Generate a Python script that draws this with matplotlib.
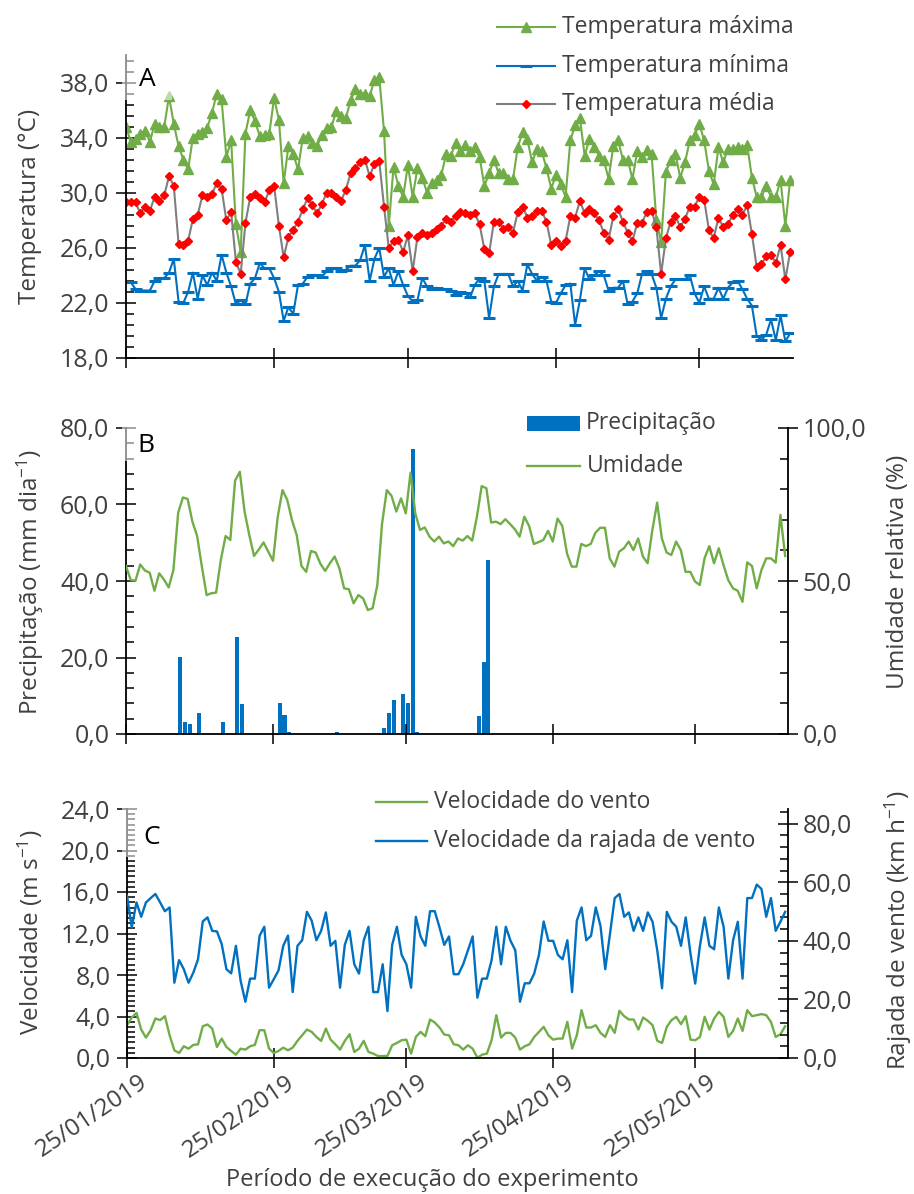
import numpy as np
import matplotlib
matplotlib.use("Agg")
import matplotlib.pyplot as plt
import matplotlib.dates as mdates
from matplotlib.lines import Line2D
from matplotlib.patches import Rectangle
from matplotlib.ticker import FixedLocator, FuncFormatter
from matplotlib.transforms import ScaledTranslation

W, H = 914, 1194

plt.rcParams['font.family'] = ['Open Sans', 'DejaVu Sans']
plt.rcParams['mathtext.fontset'] = 'custom'
plt.rcParams['mathtext.rm'] = 'Open Sans'
plt.rcParams['mathtext.default'] = 'regular'

TEXT = '#404040'
GREEN = '#70AD47'
BLUE = '#0070C0'
GRAY = '#7F7F7F'
RED = '#FF0000'

start_date = '2019-01-25'

temp_max = [34.8, 33.7, 33.9, 34.3, 34.5, 33.7, 35.0, 34.8, 34.8, 37.0, 35.0, 33.4, 32.4, 31.7, 34.0,
            34.3, 34.4, 34.7, 35.8, 37.2, 36.8, 32.6, 33.8, 27.7, 25.7, 34.3, 36.0, 35.2, 34.1, 34.2,
            34.3, 36.9, 35.3, 30.7, 33.4, 32.8, 31.7, 34.0, 34.1, 33.6, 33.4, 34.2, 34.7, 34.8, 35.9,
            35.6, 35.4, 36.7, 37.5, 37.2, 37.2, 37.0, 38.2, 38.4, 34.5, 27.6, 31.9, 30.5, 29.7, 32.0,
            29.7, 31.8, 31.1, 30.0, 30.7, 30.9, 31.3, 32.8, 32.7, 33.6, 33.0, 33.5, 33.0, 33.3, 32.6,
            30.5, 31.4, 32.4, 31.4, 31.4, 31.0, 31.0, 33.3, 34.4, 33.9, 32.2, 33.2, 33.0, 31.8, 30.3,
            31.3, 30.6, 29.7, 33.8, 34.9, 35.4, 32.7, 33.9, 33.3, 32.7, 32.4, 31.0, 33.4, 33.8, 32.4,
            32.4, 31.0, 33.0, 32.6, 33.1, 32.8, 28.0, 26.4, 31.5, 32.4, 32.8, 31.1, 32.2, 33.8, 34.2,
            35.0, 33.8, 31.6, 30.6, 33.3, 32.2, 33.2, 33.2, 33.3, 33.2, 33.5, 31.1, 29.7, 29.7, 30.5,
            29.7, 29.7, 30.9, 27.6, 30.9]
temp_min = [23.5, 23.5, 23.0, 22.9, 22.9, 22.9, 23.6, 23.8, 23.8, 24.2, 25.2, 22.1, 22.0, 22.8, 24.2,
            22.3, 24.0, 23.3, 24.2, 23.6, 25.5, 24.2, 23.2, 21.9, 22.2, 21.9, 23.4, 23.8, 24.9, 24.5,
            24.5, 23.8, 22.8, 20.7, 21.7, 21.2, 23.3, 23.4, 23.9, 24.0, 24.0, 23.9, 24.3, 24.5, 24.5,
            24.3, 24.4, 24.7, 24.7, 25.1, 26.2, 23.6, 25.2, 26.0, 23.9, 24.5, 23.3, 24.3, 23.3, 22.5,
            22.1, 22.2, 23.8, 23.2, 23.0, 23.1, 23.0, 23.0, 22.9, 22.6, 22.8, 22.7, 22.4, 23.3, 23.8,
            23.6, 20.9, 23.2, 24.1, 24.1, 24.1, 23.2, 23.6, 22.9, 24.8, 24.1, 23.6, 23.9, 23.6, 22.1,
            22.0, 22.7, 23.3, 23.4, 20.4, 22.2, 24.5, 23.7, 24.0, 24.3, 24.0, 22.9, 23.1, 23.1, 23.6,
            21.9, 22.1, 22.7, 24.1, 24.3, 24.1, 23.1, 20.9, 22.3, 23.2, 23.7, 23.7, 23.7, 24.0, 22.7,
            22.0, 23.2, 22.3, 22.3, 23.1, 22.3, 23.1, 23.5, 23.6, 23.0, 22.3, 21.8, 19.6, 19.3, 19.7,
            20.8, 19.3, 21.1, 19.2, 19.8]
temp_mean = [29.3, 29.3, 29.3, 28.5, 29.0, 28.7, 29.7, 29.4, 29.8, 31.2, 30.5, 26.3, 26.2, 26.5, 28.1,
             28.4, 29.8, 29.7, 29.9, 30.7, 30.3, 28.0, 28.6, 25.0, 24.1, 27.8, 29.7, 29.9, 29.6, 29.3,
             30.2, 30.5, 27.6, 25.3, 26.8, 27.3, 27.9, 28.8, 29.6, 29.1, 28.5, 29.2, 30.0, 30.0, 29.7,
             29.4, 30.2, 31.4, 31.8, 32.2, 32.4, 31.2, 32.1, 32.3, 29.0, 26.0, 26.5, 26.6, 25.7, 26.9,
             24.3, 26.8, 27.1, 26.9, 27.1, 27.4, 27.6, 28.1, 27.9, 28.3, 28.6, 28.5, 28.4, 28.5, 27.7,
             25.9, 25.6, 27.9, 27.9, 27.4, 27.5, 27.1, 28.6, 29.0, 28.2, 28.3, 28.7, 28.7, 27.9, 26.2,
             26.5, 26.1, 26.5, 28.3, 28.2, 29.4, 28.5, 28.8, 28.5, 28.0, 27.1, 26.6, 28.3, 28.8, 27.9,
             27.1, 26.5, 27.8, 27.8, 28.6, 28.7, 27.5, 24.1, 26.7, 27.9, 28.3, 27.5, 28.1, 29.0, 29.0,
             29.7, 29.5, 27.3, 26.7, 28.2, 27.5, 27.7, 28.4, 28.8, 28.4, 29.1, 27.0, 24.6, 24.8, 25.4,
             25.5, 24.9, 26.2, 23.7, 25.7]

humidity = [54.9, 50.3, 50.1, 55.4, 53.4, 52.7, 46.8, 52.5, 50.5, 47.9, 53.6, 72.3, 77.3, 76.8, 69.4,
            64.7, 54.7, 45.4, 46.0, 46.2, 56.9, 64.7, 63.4, 82.8, 85.7, 72.7, 65.0, 58.2, 60.3, 62.6,
            59.6, 56.6, 71.0, 79.7, 76.5, 69.9, 65.0, 54.9, 53.0, 59.8, 59.3, 55.6, 53.3, 55.8, 58.0,
            54.1, 47.6, 47.3, 42.7, 45.4, 44.3, 40.5, 41.1, 48.7, 68.8, 79.7, 77.8, 72.7, 77.0, 72.1,
            85.4, 72.1, 66.7, 67.5, 64.5, 62.9, 64.5, 62.3, 62.9, 61.4, 63.9, 63.2, 64.7, 63.2, 71.0,
            81.0, 80.3, 69.1, 69.4, 68.6, 70.2, 68.6, 66.9, 64.5, 71.0, 68.0, 62.1, 62.7, 63.4, 66.4,
            62.9, 70.4, 68.0, 59.0, 54.7, 54.7, 62.1, 61.4, 62.1, 65.8, 67.4, 67.4, 57.4, 54.7, 59.6,
            60.7, 62.9, 60.1, 63.9, 58.0, 55.8, 66.7, 75.6, 63.9, 59.3, 58.5, 62.9, 60.1, 53.0, 53.0,
            49.8, 48.7, 57.4, 61.4, 55.8, 60.7, 55.2, 50.3, 47.6, 46.8, 43.2, 56.1, 54.9, 47.6, 53.6,
            57.4, 57.4, 56.0, 71.6, 58.2]

rain_dates = ['2019-02-05', '2019-02-06', '2019-02-07', '2019-02-09', '2019-02-14', '2019-02-17',
              '2019-02-18', '2019-02-26', '2019-02-27', '2019-02-28', '2019-03-10', '2019-03-20',
              '2019-03-21', '2019-03-22', '2019-03-24', '2019-03-25', '2019-03-26', '2019-03-27',
              '2019-04-09', '2019-04-10', '2019-04-11']
rain_mm = [20.1, 3.1, 2.6, 5.6, 3.1, 25.4, 7.8, 8.1, 4.9, 0.4, 0.4, 1.5, 5.6, 8.9, 10.5, 8.1, 74.5, 0.4,
           4.7, 18.8, 45.4]

wind_speed = [3.16, 3.9, 4.35, 2.74, 1.97, 2.68, 3.81, 3.65, 4.03, 2.19, 0.74, 0.48, 1.13, 0.9, 1.26,
              1.32, 3.06, 3.23, 2.84, 1.06, 1.87, 1.06, 0.68, 0.32, 0.9, 0.81, 1.13, 1.26, 2.68, 2.68,
              0.9, 0.48, 0.68, 1.0, 0.74, 1.0, 1.65, 2.19, 2.74, 2.52, 2.03, 1.65, 2.84, 1.77, 1.32,
              0.81, 1.65, 2.29, 0.58, 0.9, 1.65, 0.58, 0.42, 0.19, 0.19, 0.19, 1.23, 1.45, 1.71, 1.77,
              0.42, 2.03, 2.52, 2.1, 3.71, 3.42, 2.94, 2.26, 2.19, 1.32, 1.23, 0.81, 1.23, 0.9, 0.03,
              0.32, 0.42, 1.71, 4.13, 1.97, 2.42, 2.42, 1.97, 0.81, 1.13, 1.32, 2.03, 2.52, 3.0, 2.19,
              1.77, 1.87, 1.87, 3.48, 0.9, 2.19, 4.61, 2.94, 2.94, 3.16, 2.42, 2.03, 3.16, 2.42, 4.55,
              4.03, 3.71, 3.71, 2.74, 3.9, 3.58, 3.16, 1.65, 1.45, 3.0, 3.65, 3.97, 3.26, 4.03, 1.77,
              1.71, 2.03, 3.97, 2.74, 3.81, 4.45, 3.97, 2.03, 2.61, 3.81, 2.61, 4.61, 4.03, 4.13, 4.23,
              4.13, 3.48, 2.03, 2.29, 3.06]
wind_gust = [55.4, 44.6, 53.1, 48.2, 53.1, 54.6, 56.0, 53.1, 50.1, 51.4, 25.7, 33.4, 30.3, 25.7, 29.1,
             33.7, 46.6, 48.0, 43.4, 43.2, 38.9, 30.3, 28.9, 38.3, 26.3, 19.2, 27.1, 27.1, 41.7, 44.8,
             24.0, 26.9, 29.9, 38.3, 41.8, 22.5, 38.3, 40.2, 49.9, 46.9, 40.2, 43.4, 49.7, 38.3, 40.0,
             24.0, 38.6, 43.4, 32.0, 28.8, 40.2, 44.8, 22.5, 22.5, 32.0, 16.0, 38.6, 44.8, 35.2, 32.0,
             24.0, 48.2, 41.5, 38.3, 50.1, 50.1, 44.6, 38.6, 41.5, 28.6, 28.6, 32.0, 36.8, 41.5, 20.6,
             27.1, 27.1, 33.4, 44.8, 32.0, 44.8, 40.0, 36.8, 19.2, 25.5, 25.5, 28.8, 35.2, 46.6, 40.0,
             40.0, 35.2, 33.7, 40.2, 22.5, 46.9, 51.4, 40.2, 41.7, 51.4, 45.1, 30.3, 42.3, 54.6, 56.0,
             48.2, 49.7, 43.4, 48.0, 43.4, 49.7, 46.5, 36.6, 23.8, 49.9, 46.5, 44.8, 38.3, 48.0, 35.7,
             25.4, 38.3, 48.0, 38.3, 37.1, 51.4, 44.8, 27.1, 40.2, 46.5, 27.1, 54.6, 54.6, 59.2, 57.7,
             48.2, 54.6, 43.4, 46.5, 49.9]

days = np.datetime64(start_date) + np.arange(len(temp_max))
x0 = mdates.date2num(np.datetime64(start_date))


def comma(v, pos):
    return f'{v:.1f}'.replace('.', ',')


def style_y(ax, majors, minors, right=False):
    ax.yaxis.set_major_locator(FixedLocator(majors))
    ax.yaxis.set_minor_locator(FixedLocator(minors))
    ax.yaxis.set_major_formatter(FuncFormatter(comma))
    ax.tick_params(axis='y', which='major', direction='inout', length=14, width=1.1,
                   color='black', labelsize=18, labelcolor=TEXT, pad=3.5 if right else 5)
    ax.tick_params(axis='y', which='minor', direction='in', length=6, width=1.1, color='black')


def style_x(ax, show_labels):
    ax.set_xlim(x0, x0 + 139.6)
    ax.xaxis.set_major_locator(mdates.DayLocator(bymonthday=25))
    ax.xaxis.set_major_formatter(mdates.DateFormatter('%d/%m/%Y'))
    ax.tick_params(axis='x', which='major', direction='inout', length=14, width=1.1,
                   color='black', labelbottom=show_labels, labelsize=17.5, labelcolor=TEXT, pad=2)


def style_spines(ax, visible):
    for side, sp in ax.spines.items():
        sp.set_visible(side in visible)
        sp.set_linewidth(1.3)
        sp.set_color('black')


fig = plt.figure(figsize=(W / 100, H / 100), dpi=100)

# Panel A - temperatures
axA = fig.add_axes([126 / W, 1 - 358 / H, 667 / W, 303 / H])
axA.plot(days, temp_max, color=GREEN, lw=1.5, marker='^', ms=7.5, mfc=GREEN, mec=GREEN)
axA.plot(days, temp_min, color=BLUE, lw=1.5, marker='_', ms=9, mew=2.2)
axA.plot(days, temp_mean, color=GRAY, lw=1.5, marker='D', ms=4, mfc=RED, mec=RED)
axA.set_ylim(18, 40)
style_y(axA, np.arange(18, 39, 4), np.arange(18, 40.01, 0.8))
style_x(axA, False)
style_spines(axA, ('left', 'bottom'))

# Panel B - rain and humidity
axB = fig.add_axes([126 / W, 1 - 734 / H, 662 / W, 306 / H])
axB.bar(np.array(rain_dates, dtype='datetime64[D]'), rain_mm, width=0.85, align='edge', color=BLUE)
axB.set_ylim(0, 80)
style_y(axB, np.arange(0, 81, 20), np.arange(0, 81, 4))
axB2 = axB.twinx()
axB2.plot(days, humidity, color=GREEN, lw=1.7)
axB2.set_ylim(0, 100)
style_y(axB2, [0, 50, 100], np.arange(0, 101, 10), right=True)
style_x(axB, False)
style_spines(axB, ('left', 'bottom'))
style_spines(axB2, ('right',))

# Panel C - wind
axC = fig.add_axes([127 / W, 1 - 1058 / H, 661 / W, 249 / H])
axC.plot(days, wind_speed, color=GREEN, lw=1.7)
axC.set_ylim(0, 24)
style_y(axC, np.arange(0, 25, 4), np.arange(0, 24.01, 0.5))
axC2 = axC.twinx()
axC2.plot(days, wind_gust, color=BLUE, lw=1.7)
axC2.set_ylim(0, 85)
style_y(axC2, np.arange(0, 81, 20), np.arange(0, 85, 4), right=True)
style_x(axC, True)
style_spines(axC, ('left', 'bottom'))
style_spines(axC2, ('right',))

shift = ScaledTranslation(12 / 100, 0, fig.dpi_scale_trans)
for lbl in axC.get_xticklabels():
    lbl.set_rotation(34)
    lbl.set_ha('right')
    lbl.set_rotation_mode('anchor')
    lbl.set_transform(lbl.get_transform() + shift)


def fx(px):
    return px / W


def fy(py):
    return 1 - py / H


# axis titles
fig.text(fx(30), fy(206), 'Temperatura (°C)', rotation=90, ha='center', va='center',
         fontsize=17.5, color=TEXT)
fig.text(fx(30), fy(582), 'Precipitação (mm dia$^{-1}$)', rotation=90, ha='center', va='center',
         fontsize=17.5, color=TEXT)
fig.text(fx(898), fy(572), 'Umidade relativa (%)', rotation=90, ha='center', va='center',
         fontsize=17.5, color=TEXT)
fig.text(fx(30), fy(932), 'Velocidade (m s$^{-1}$)', rotation=90, ha='center', va='center',
         fontsize=17.5, color=TEXT)
fig.text(fx(898), fy(930), 'Rajada de vento (km h$^{-1}$)', rotation=90, ha='center', va='center',
         fontsize=17.5, color=TEXT)
fig.text(fx(432), fy(1180), 'Período de execução do experimento', ha='center', va='center',
         fontsize=17, color=TEXT)

# panel letters with a half transparent white box over the axis
for (bx0, by0, bx1, by1), (tx, ty), letter in [((122, 52, 172, 100), (147, 80), 'A'),
                                                ((122, 426, 172, 461), (146, 445), 'B'),
                                                ((122, 807, 178, 857), (152, 837), 'C')]:
    fig.add_artist(Rectangle((fx(bx0), fy(by1)), fx(bx1) - fx(bx0), fy(by0) - fy(by1),
                             transform=fig.transFigure, facecolor='white', alpha=0.55,
                             edgecolor='none', zorder=5))
    fig.text(fx(tx), fy(ty), letter, ha='center', va='center', fontsize=19, color='black', zorder=6)


def legend_line(x0p, x1p, y, label, **kw):
    xs = [fx(x0p), fx((x0p + x1p) / 2), fx(x1p)]
    fig.add_artist(Line2D(xs, [fy(y)] * 3, transform=fig.transFigure, markevery=[1], **kw))
    fig.text(fx(x1p + 7), fy(y), label, ha='left', va='center', fontsize=16.5, color=TEXT)


legend_line(497, 555, 27, 'Temperatura máxima', color=GREEN, lw=1.5, marker='^', ms=7.5)
legend_line(497, 555, 66, 'Temperatura mínima', color=BLUE, lw=1.5, marker='_', ms=9, mew=2.2)
legend_line(497, 555, 104, 'Temperatura média', color=GRAY, lw=1.5, marker='D', ms=4,
            mfc=RED, mec=RED)

fig.add_artist(Rectangle((fx(527), fy(431)), fx(580) - fx(527), fy(416) - fy(431),
                         transform=fig.transFigure, facecolor=BLUE, edgecolor='none'))
fig.text(fx(586), fy(423), 'Precipitação', ha='left', va='center', fontsize=16.5, color=TEXT)
legend_line(527, 580, 466, 'Umidade', color=GREEN, lw=1.7)

legend_line(376, 427, 802, 'Velocidade do vento', color=GREEN, lw=1.7)
legend_line(376, 427, 841, 'Velocidade da rajada de vento', color=BLUE, lw=1.7)

fig.savefig('out.png', dpi=100)
